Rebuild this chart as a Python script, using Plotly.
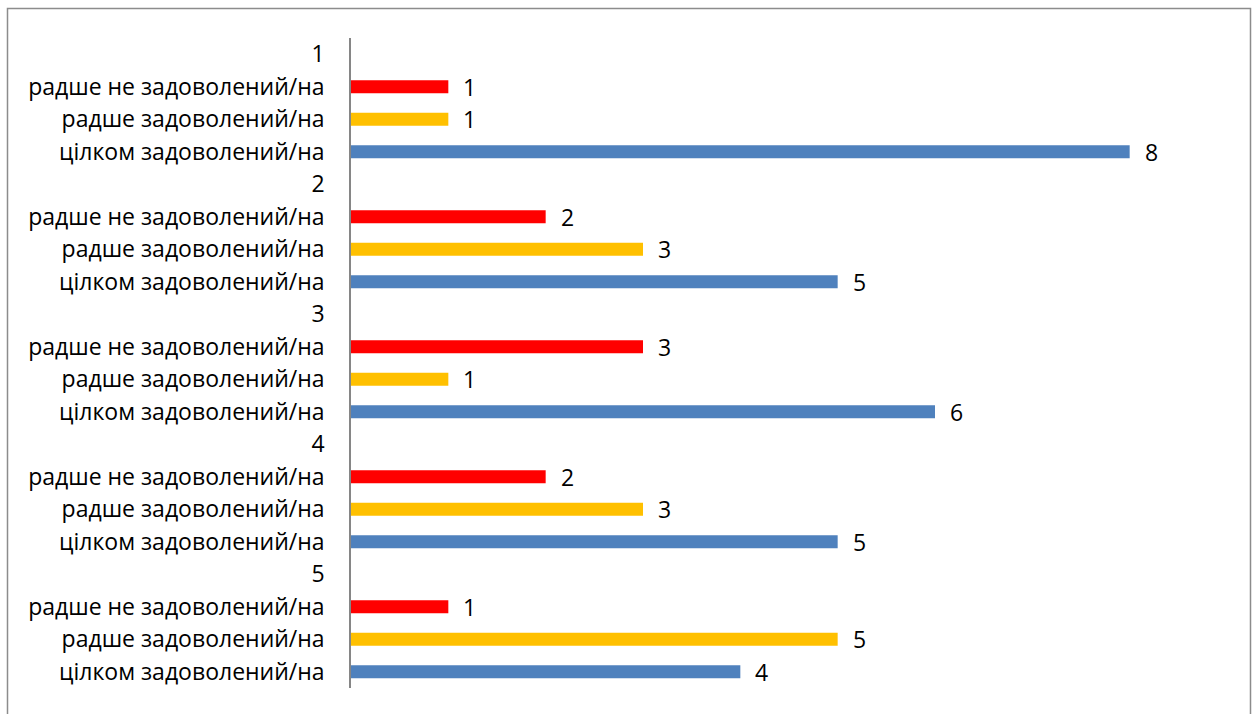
import plotly.graph_objects as go

groups = ["1", "2", "3", "4", "5"]
series_names = ["радше не задоволений/на", "радше задоволений/на", "цілком задоволений/на"]
series_colors = ["#FF0000", "#FFC000", "#4F81BD"]
rather_not = [1, 2, 3, 2, 1]
rather_yes = [1, 3, 1, 3, 5]
fully = [8, 5, 6, 5, 4]

series_values = [rather_not, rather_yes, fully]

tickvals, ticktext = [], []
fig = go.Figure()
pos = 0
trace_y = [[], [], []]
trace_x = [[], [], []]
for gi, g in enumerate(groups):
    tickvals.append(pos)
    ticktext.append(g)
    pos += 1
    for si, name in enumerate(series_names):
        tickvals.append(pos)
        ticktext.append(name)
        trace_y[si].append(pos)
        trace_x[si].append(series_values[si][gi])
        pos += 1

FONT = "Open Sans"
FS = 23
for si in range(3):
    fig.add_trace(go.Bar(
        x=trace_x[si], y=trace_y[si], orientation="h",
        marker=dict(color=series_colors[si], line=dict(width=0)),
        width=0.4, showlegend=False, hoverinfo="x",
    ))
    for xv, yv in zip(trace_x[si], trace_y[si]):
        fig.add_annotation(x=xv, y=yv, text=str(xv), showarrow=False,
                           xanchor="left", xshift=13,
                           font=dict(family=FONT, size=FS, color="#000000"))

L, T, PW, PH = 351, 38, 876, 650
fig.update_layout(
    width=1255, height=714,
    margin=dict(l=L, r=1255 - L - PW, t=T, b=714 - T - PH),
    paper_bgcolor="white", plot_bgcolor="white",
    barmode="overlay",
    xaxis=dict(range=[0, 9], visible=False, showgrid=False, zeroline=False),
    yaxis=dict(range=[len(tickvals) - 0.5, -0.5], tickmode="array",
               tickvals=tickvals, ticktext=ticktext,
               showline=True, linecolor="#868686", linewidth=1.5,
               showgrid=False, zeroline=False, ticks="",
               ticklabelstandoff=20,
               tickfont=dict(family=FONT, size=FS, color="#000000")),
    shapes=[dict(type="rect", xref="paper", yref="paper",
                 x0=(7.5 - L) / PW, x1=(1250.5 - L) / PW,
                 y0=(T + PH - 740) / PH, y1=1 + (T - 8.5) / PH,
                 line=dict(color="#8C8C8C", width=1.5), fillcolor="rgba(0,0,0,0)",
                 layer="below")],
)

fig.write_html(
    "out.html",
    config={"displayModeBar": False},
    post_script="document.body.style.margin='0';document.body.style.overflow='hidden';",
)
